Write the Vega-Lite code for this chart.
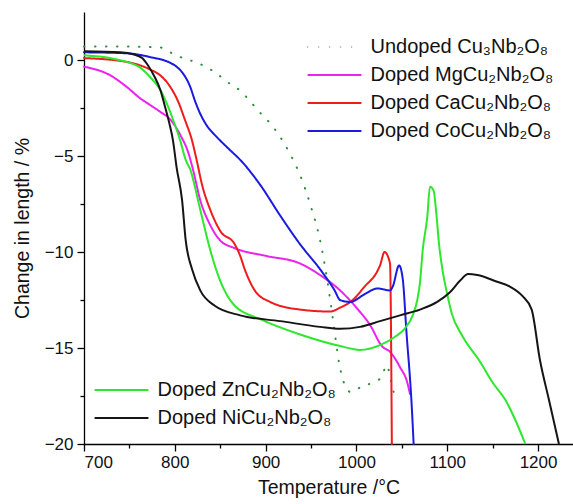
{
  "$schema": "https://vega.github.io/schema/vega-lite/v6.json",
  "width": 489,
  "height": 432,
  "autosize": {"type": "none"},
  "padding": {"left": 84, "top": 12, "right": 0, "bottom": 60},
  "background": "white",
  "config": {
    "view": {"stroke": null},
    "font": "Liberation Sans",
    "axis": {
      "domainColor": "#000000",
      "domainWidth": 1.3,
      "tickColor": "#000000",
      "tickWidth": 1.3,
      "grid": false,
      "labelFont": "Liberation Sans",
      "labelFontSize": 17,
      "labelColor": "#111111",
      "titleFont": "Liberation Sans",
      "titleFontSize": 19.5,
      "titleFontWeight": "normal",
      "titleColor": "#111111"
    },
    "legend": {
      "labelFont": "Liberation Sans",
      "labelFontSize": 20,
      "labelColor": "#111111",
      "labelLimit": 400,
      "symbolType": "M-5,0H5",
      "symbolSize": 116,
      "symbolStrokeWidth": 2.2,
      "rowPadding": 8,
      "labelOffset": 26
    }
  },
  "datasets": {
    "top": [
      {"series": "Undoped Cu₃Nb₂O₈", "T": 700, "v": 0.7},
      {"series": "Undoped Cu₃Nb₂O₈", "T": 740, "v": 0.7},
      {"series": "Undoped Cu₃Nb₂O₈", "T": 784, "v": 0.65},
      {"series": "Undoped Cu₃Nb₂O₈", "T": 797, "v": 0.35},
      {"series": "Undoped Cu₃Nb₂O₈", "T": 809, "v": 0.1},
      {"series": "Undoped Cu₃Nb₂O₈", "T": 822, "v": -0.1},
      {"series": "Undoped Cu₃Nb₂O₈", "T": 834, "v": -0.35},
      {"series": "Undoped Cu₃Nb₂O₈", "T": 846, "v": -0.7},
      {"series": "Undoped Cu₃Nb₂O₈", "T": 858, "v": -1.15},
      {"series": "Undoped Cu₃Nb₂O₈", "T": 872, "v": -1.6},
      {"series": "Undoped Cu₃Nb₂O₈", "T": 883, "v": -2.15},
      {"series": "Undoped Cu₃Nb₂O₈", "T": 893, "v": -2.7},
      {"series": "Undoped Cu₃Nb₂O₈", "T": 905, "v": -3.3},
      {"series": "Undoped Cu₃Nb₂O₈", "T": 916, "v": -4.0},
      {"series": "Undoped Cu₃Nb₂O₈", "T": 927, "v": -4.9},
      {"series": "Undoped Cu₃Nb₂O₈", "T": 938, "v": -6.0},
      {"series": "Undoped Cu₃Nb₂O₈", "T": 949, "v": -7.5},
      {"series": "Undoped Cu₃Nb₂O₈", "T": 960, "v": -9.4},
      {"series": "Undoped Cu₃Nb₂O₈", "T": 968, "v": -11.5},
      {"series": "Undoped Cu₃Nb₂O₈", "T": 975, "v": -13.8},
      {"series": "Undoped Cu₃Nb₂O₈", "T": 981, "v": -15.8},
      {"series": "Undoped Cu₃Nb₂O₈", "T": 987, "v": -16.9},
      {"series": "Undoped Cu₃Nb₂O₈", "T": 994, "v": -17.3},
      {"series": "Undoped Cu₃Nb₂O₈", "T": 1006, "v": -17.0},
      {"series": "Undoped Cu₃Nb₂O₈", "T": 1018, "v": -16.8},
      {"series": "Undoped Cu₃Nb₂O₈", "T": 1028, "v": -16.5},
      {"series": "Undoped Cu₃Nb₂O₈", "T": 1033, "v": -15.9},
      {"series": "Undoped Cu₃Nb₂O₈", "T": 1040, "v": -17.1},
      {"series": "Undoped Cu₃Nb₂O₈", "T": 1043, "v": -17.7},

      {"series": "Doped MgCu₂Nb₂O₈", "T": 700, "v": -0.35},
      {"series": "Doped MgCu₂Nb₂O₈", "T": 729, "v": -0.8},
      {"series": "Doped MgCu₂Nb₂O₈", "T": 747, "v": -1.4},
      {"series": "Doped MgCu₂Nb₂O₈", "T": 762, "v": -2.0},
      {"series": "Doped MgCu₂Nb₂O₈", "T": 773, "v": -2.35},
      {"series": "Doped MgCu₂Nb₂O₈", "T": 784, "v": -2.7},
      {"series": "Doped MgCu₂Nb₂O₈", "T": 795, "v": -3.1},
      {"series": "Doped MgCu₂Nb₂O₈", "T": 806, "v": -3.9},
      {"series": "Doped MgCu₂Nb₂O₈", "T": 815, "v": -4.85},
      {"series": "Doped MgCu₂Nb₂O₈", "T": 820, "v": -5.7},
      {"series": "Doped MgCu₂Nb₂O₈", "T": 828, "v": -7.3},
      {"series": "Doped MgCu₂Nb₂O₈", "T": 839, "v": -8.6},
      {"series": "Doped MgCu₂Nb₂O₈", "T": 850, "v": -9.4},
      {"series": "Doped MgCu₂Nb₂O₈", "T": 866, "v": -9.8},
      {"series": "Doped MgCu₂Nb₂O₈", "T": 900, "v": -10.2},
      {"series": "Doped MgCu₂Nb₂O₈", "T": 938, "v": -10.6},
      {"series": "Doped MgCu₂Nb₂O₈", "T": 960, "v": -11.2},
      {"series": "Doped MgCu₂Nb₂O₈", "T": 982, "v": -12.0},
      {"series": "Doped MgCu₂Nb₂O₈", "T": 1000, "v": -12.9},
      {"series": "Doped MgCu₂Nb₂O₈", "T": 1015, "v": -13.8},
      {"series": "Doped MgCu₂Nb₂O₈", "T": 1028, "v": -14.9},
      {"series": "Doped MgCu₂Nb₂O₈", "T": 1037, "v": -15.2},
      {"series": "Doped MgCu₂Nb₂O₈", "T": 1048, "v": -16.0},
      {"series": "Doped MgCu₂Nb₂O₈", "T": 1056, "v": -16.8},
      {"series": "Doped MgCu₂Nb₂O₈", "T": 1059, "v": -17.4},

      {"series": "Doped CaCu₂Nb₂O₈", "T": 700, "v": 0.1},
      {"series": "Doped CaCu₂Nb₂O₈", "T": 747, "v": -0.1},
      {"series": "Doped CaCu₂Nb₂O₈", "T": 773, "v": -0.5},
      {"series": "Doped CaCu₂Nb₂O₈", "T": 784, "v": -0.8},
      {"series": "Doped CaCu₂Nb₂O₈", "T": 795, "v": -1.4},
      {"series": "Doped CaCu₂Nb₂O₈", "T": 804, "v": -2.2},
      {"series": "Doped CaCu₂Nb₂O₈", "T": 811, "v": -3.1},
      {"series": "Doped CaCu₂Nb₂O₈", "T": 819, "v": -4.2},
      {"series": "Doped CaCu₂Nb₂O₈", "T": 824, "v": -5.2},
      {"series": "Doped CaCu₂Nb₂O₈", "T": 830, "v": -6.5},
      {"series": "Doped CaCu₂Nb₂O₈", "T": 839, "v": -7.8},
      {"series": "Doped CaCu₂Nb₂O₈", "T": 850, "v": -8.9},
      {"series": "Doped CaCu₂Nb₂O₈", "T": 866, "v": -9.6},
      {"series": "Doped CaCu₂Nb₂O₈", "T": 872, "v": -10.2},
      {"series": "Doped CaCu₂Nb₂O₈", "T": 877, "v": -10.9},
      {"series": "Doped CaCu₂Nb₂O₈", "T": 888, "v": -12.0},
      {"series": "Doped CaCu₂Nb₂O₈", "T": 905, "v": -12.6},
      {"series": "Doped CaCu₂Nb₂O₈", "T": 938, "v": -13.0},
      {"series": "Doped CaCu₂Nb₂O₈", "T": 971, "v": -13.1},
      {"series": "Doped CaCu₂Nb₂O₈", "T": 982, "v": -12.9},
      {"series": "Doped CaCu₂Nb₂O₈", "T": 996, "v": -12.5},
      {"series": "Doped CaCu₂Nb₂O₈", "T": 1009, "v": -11.8},
      {"series": "Doped CaCu₂Nb₂O₈", "T": 1023, "v": -11.0},
      {"series": "Doped CaCu₂Nb₂O₈", "T": 1026, "v": -10.7},
      {"series": "Doped CaCu₂Nb₂O₈", "T": 1031, "v": -10.0},
      {"series": "Doped CaCu₂Nb₂O₈", "T": 1037, "v": -10.6},
      {"series": "Doped CaCu₂Nb₂O₈", "T": 1039, "v": -20},

      {"series": "Doped CoCu₂Nb₂O₈", "T": 700, "v": 0.4},
      {"series": "Doped CoCu₂Nb₂O₈", "T": 747, "v": 0.35},
      {"series": "Doped CoCu₂Nb₂O₈", "T": 773, "v": 0.15},
      {"series": "Doped CoCu₂Nb₂O₈", "T": 795, "v": -0.15},
      {"series": "Doped CoCu₂Nb₂O₈", "T": 802, "v": -0.35},
      {"series": "Doped CoCu₂Nb₂O₈", "T": 809, "v": -0.7},
      {"series": "Doped CoCu₂Nb₂O₈", "T": 817, "v": -1.4},
      {"series": "Doped CoCu₂Nb₂O₈", "T": 822, "v": -2.1},
      {"series": "Doped CoCu₂Nb₂O₈", "T": 828, "v": -2.8},
      {"series": "Doped CoCu₂Nb₂O₈", "T": 835, "v": -3.4},
      {"series": "Doped CoCu₂Nb₂O₈", "T": 846, "v": -4.0},
      {"series": "Doped CoCu₂Nb₂O₈", "T": 861, "v": -4.7},
      {"series": "Doped CoCu₂Nb₂O₈", "T": 872, "v": -5.2},
      {"series": "Doped CoCu₂Nb₂O₈", "T": 894, "v": -6.5},
      {"series": "Doped CoCu₂Nb₂O₈", "T": 916, "v": -8.1},
      {"series": "Doped CoCu₂Nb₂O₈", "T": 938, "v": -9.6},
      {"series": "Doped CoCu₂Nb₂O₈", "T": 960, "v": -10.9},
      {"series": "Doped CoCu₂Nb₂O₈", "T": 976, "v": -12.0},
      {"series": "Doped CoCu₂Nb₂O₈", "T": 982, "v": -12.5},
      {"series": "Doped CoCu₂Nb₂O₈", "T": 993, "v": -12.6},
      {"series": "Doped CoCu₂Nb₂O₈", "T": 1009, "v": -12.2},
      {"series": "Doped CoCu₂Nb₂O₈", "T": 1023, "v": -11.9},
      {"series": "Doped CoCu₂Nb₂O₈", "T": 1037, "v": -12.0},
      {"series": "Doped CoCu₂Nb₂O₈", "T": 1040, "v": -11.8},
      {"series": "Doped CoCu₂Nb₂O₈", "T": 1047, "v": -10.7},
      {"series": "Doped CoCu₂Nb₂O₈", "T": 1051, "v": -11.4},
      {"series": "Doped CoCu₂Nb₂O₈", "T": 1055, "v": -14.1},
      {"series": "Doped CoCu₂Nb₂O₈", "T": 1061, "v": -18.1},
      {"series": "Doped CoCu₂Nb₂O₈", "T": 1063, "v": -20}
    ],
    "bottom": [
      {"series": "Doped ZnCu₂Nb₂O₈", "T": 700, "v": 0.25},
      {"series": "Doped ZnCu₂Nb₂O₈", "T": 729, "v": 0.1},
      {"series": "Doped ZnCu₂Nb₂O₈", "T": 747, "v": -0.1},
      {"series": "Doped ZnCu₂Nb₂O₈", "T": 762, "v": -0.4},
      {"series": "Doped ZnCu₂Nb₂O₈", "T": 773, "v": -0.9},
      {"series": "Doped ZnCu₂Nb₂O₈", "T": 784, "v": -1.55},
      {"series": "Doped ZnCu₂Nb₂O₈", "T": 791, "v": -2.25},
      {"series": "Doped ZnCu₂Nb₂O₈", "T": 798, "v": -3.1},
      {"series": "Doped ZnCu₂Nb₂O₈", "T": 806, "v": -4.2},
      {"series": "Doped ZnCu₂Nb₂O₈", "T": 812, "v": -5.2},
      {"series": "Doped ZnCu₂Nb₂O₈", "T": 817, "v": -5.7},
      {"series": "Doped ZnCu₂Nb₂O₈", "T": 828, "v": -7.8},
      {"series": "Doped ZnCu₂Nb₂O₈", "T": 839, "v": -9.9},
      {"series": "Doped ZnCu₂Nb₂O₈", "T": 850, "v": -11.5},
      {"series": "Doped ZnCu₂Nb₂O₈", "T": 866, "v": -12.8},
      {"series": "Doped ZnCu₂Nb₂O₈", "T": 894, "v": -13.5},
      {"series": "Doped ZnCu₂Nb₂O₈", "T": 938, "v": -14.3},
      {"series": "Doped ZnCu₂Nb₂O₈", "T": 982, "v": -14.9},
      {"series": "Doped ZnCu₂Nb₂O₈", "T": 1004, "v": -15.1},
      {"series": "Doped ZnCu₂Nb₂O₈", "T": 1026, "v": -14.85},
      {"series": "Doped ZnCu₂Nb₂O₈", "T": 1043, "v": -14.4},
      {"series": "Doped ZnCu₂Nb₂O₈", "T": 1053, "v": -14.0},
      {"series": "Doped ZnCu₂Nb₂O₈", "T": 1062, "v": -13.3},
      {"series": "Doped ZnCu₂Nb₂O₈", "T": 1067, "v": -12.5},
      {"series": "Doped ZnCu₂Nb₂O₈", "T": 1070, "v": -11.6},
      {"series": "Doped ZnCu₂Nb₂O₈", "T": 1073, "v": -9.9},
      {"series": "Doped ZnCu₂Nb₂O₈", "T": 1078, "v": -8.2},
      {"series": "Doped ZnCu₂Nb₂O₈", "T": 1081, "v": -6.6},
      {"series": "Doped ZnCu₂Nb₂O₈", "T": 1085, "v": -6.8},
      {"series": "Doped ZnCu₂Nb₂O₈", "T": 1088, "v": -8.0},
      {"series": "Doped ZnCu₂Nb₂O₈", "T": 1091, "v": -9.6},
      {"series": "Doped ZnCu₂Nb₂O₈", "T": 1095, "v": -11.0},
      {"series": "Doped ZnCu₂Nb₂O₈", "T": 1100, "v": -12.2},
      {"series": "Doped ZnCu₂Nb₂O₈", "T": 1105, "v": -13.2},
      {"series": "Doped ZnCu₂Nb₂O₈", "T": 1117, "v": -14.4},
      {"series": "Doped ZnCu₂Nb₂O₈", "T": 1136, "v": -15.7},
      {"series": "Doped ZnCu₂Nb₂O₈", "T": 1150, "v": -16.8},
      {"series": "Doped ZnCu₂Nb₂O₈", "T": 1164, "v": -17.7},
      {"series": "Doped ZnCu₂Nb₂O₈", "T": 1175, "v": -18.75},
      {"series": "Doped ZnCu₂Nb₂O₈", "T": 1186, "v": -20},

      {"series": "Doped NiCu₂Nb₂O₈", "T": 700, "v": 0.45},
      {"series": "Doped NiCu₂Nb₂O₈", "T": 740, "v": 0.4},
      {"series": "Doped NiCu₂Nb₂O₈", "T": 754, "v": 0.3},
      {"series": "Doped NiCu₂Nb₂O₈", "T": 764, "v": 0.1},
      {"series": "Doped NiCu₂Nb₂O₈", "T": 770, "v": -0.25},
      {"series": "Doped NiCu₂Nb₂O₈", "T": 778, "v": -0.9},
      {"series": "Doped NiCu₂Nb₂O₈", "T": 784, "v": -1.55},
      {"series": "Doped NiCu₂Nb₂O₈", "T": 789, "v": -2.4},
      {"series": "Doped NiCu₂Nb₂O₈", "T": 794, "v": -3.3},
      {"series": "Doped NiCu₂Nb₂O₈", "T": 798, "v": -4.2},
      {"series": "Doped NiCu₂Nb₂O₈", "T": 802, "v": -5.6},
      {"series": "Doped NiCu₂Nb₂O₈", "T": 808, "v": -7.3},
      {"series": "Doped NiCu₂Nb₂O₈", "T": 812, "v": -9.4},
      {"series": "Doped NiCu₂Nb₂O₈", "T": 819, "v": -10.9},
      {"series": "Doped NiCu₂Nb₂O₈", "T": 828, "v": -12.0},
      {"series": "Doped NiCu₂Nb₂O₈", "T": 844, "v": -12.8},
      {"series": "Doped NiCu₂Nb₂O₈", "T": 872, "v": -13.3},
      {"series": "Doped NiCu₂Nb₂O₈", "T": 916, "v": -13.6},
      {"series": "Doped NiCu₂Nb₂O₈", "T": 960, "v": -13.9},
      {"series": "Doped NiCu₂Nb₂O₈", "T": 982, "v": -14.0},
      {"series": "Doped NiCu₂Nb₂O₈", "T": 1004, "v": -13.9},
      {"series": "Doped NiCu₂Nb₂O₈", "T": 1026, "v": -13.6},
      {"series": "Doped NiCu₂Nb₂O₈", "T": 1048, "v": -13.3},
      {"series": "Doped NiCu₂Nb₂O₈", "T": 1070, "v": -13.0},
      {"series": "Doped NiCu₂Nb₂O₈", "T": 1089, "v": -12.6},
      {"series": "Doped NiCu₂Nb₂O₈", "T": 1103, "v": -12.1},
      {"series": "Doped NiCu₂Nb₂O₈", "T": 1114, "v": -11.5},
      {"series": "Doped NiCu₂Nb₂O₈", "T": 1123, "v": -11.15},
      {"series": "Doped NiCu₂Nb₂O₈", "T": 1133, "v": -11.2},
      {"series": "Doped NiCu₂Nb₂O₈", "T": 1155, "v": -11.55},
      {"series": "Doped NiCu₂Nb₂O₈", "T": 1169, "v": -11.8},
      {"series": "Doped NiCu₂Nb₂O₈", "T": 1183, "v": -12.3},
      {"series": "Doped NiCu₂Nb₂O₈", "T": 1193, "v": -13.0},
      {"series": "Doped NiCu₂Nb₂O₈", "T": 1202, "v": -15.6},
      {"series": "Doped NiCu₂Nb₂O₈", "T": 1212, "v": -17.7},
      {"series": "Doped NiCu₂Nb₂O₈", "T": 1223, "v": -20}
    ]
  },
  "encoding": {
    "x": {
      "field": "T",
      "type": "quantitative",
      "scale": {"domain": [700, 1238.5], "nice": false, "zero": false},
      "axis": {
        "title": "Temperature /°C",
        "values": [700, 750, 800, 850, 900, 950, 1000, 1050, 1100, 1150, 1200],
        "labelExpr": "datum.value % 100 === 0 ? datum.label : ''",
        "format": "d",
        "tickSize": {"condition": {"test": "datum.value % 100 === 0", "value": 7}, "value": 4},
        "labelPadding": 3,
        "titlePadding": 8
      }
    },
    "y": {
      "field": "v",
      "type": "quantitative",
      "scale": {"domain": [-20, 2.5], "nice": false, "zero": false},
      "axis": {
        "title": "Change in length / %",
        "values": [-20, -17.5, -15, -12.5, -10, -7.5, -5, -2.5, 0],
        "labelExpr": "datum.value % 5 === 0 ? datum.label : ''",
        "tickSize": {"condition": {"test": "datum.value % 5 === 0", "value": 7}, "value": 4},
        "labelPadding": 4,
        "titlePadding": 12
      }
    }
  },
  "layer": [
    {
      "data": {"name": "top"},
      "mark": {"type": "line", "strokeWidth": 2, "strokeCap": "round", "interpolate": "monotone"},
      "encoding": {
        "color": {
          "field": "series",
          "type": "nominal",
          "sort": null,
          "scale": {
            "domain": ["Undoped Cu₃Nb₂O₈", "Doped MgCu₂Nb₂O₈", "Doped CaCu₂Nb₂O₈", "Doped CoCu₂Nb₂O₈"],
            "range": ["#2f8f3f", "#ee22ee", "#ee1c1c", "#1a1ae0"]
          },
          "legend": {"title": null, "orient": "none", "legendX": 240.5, "legendY": 25}
        },
        "strokeDash": {
          "field": "series",
          "type": "nominal",
          "sort": null,
          "scale": {
            "domain": ["Undoped Cu₃Nb₂O₈", "Doped MgCu₂Nb₂O₈", "Doped CaCu₂Nb₂O₈", "Doped CoCu₂Nb₂O₈"],
            "range": [[0.5, 10.5], [1, 0], [1, 0], [1, 0]]
          },
          "legend": {"title": null, "orient": "none", "legendX": 240.5, "legendY": 25}
        },
        "strokeWidth": {
          "condition": {"test": "datum.series === 'Undoped Cu₃Nb₂O₈'", "value": 3},
          "value": 2
        }
      }
    },
    {
      "data": {"name": "bottom"},
      "mark": {"type": "line", "strokeWidth": 2, "interpolate": "monotone"},
      "encoding": {
        "stroke": {
          "field": "series",
          "type": "nominal",
          "sort": null,
          "scale": {
            "domain": ["Doped ZnCu₂Nb₂O₈", "Doped NiCu₂Nb₂O₈"],
            "range": ["#2ee82e", "#151515"]
          },
          "legend": {"title": null, "orient": "none", "legendX": 27.5, "legendY": 368}
        }
      }
    }
  ]
}
